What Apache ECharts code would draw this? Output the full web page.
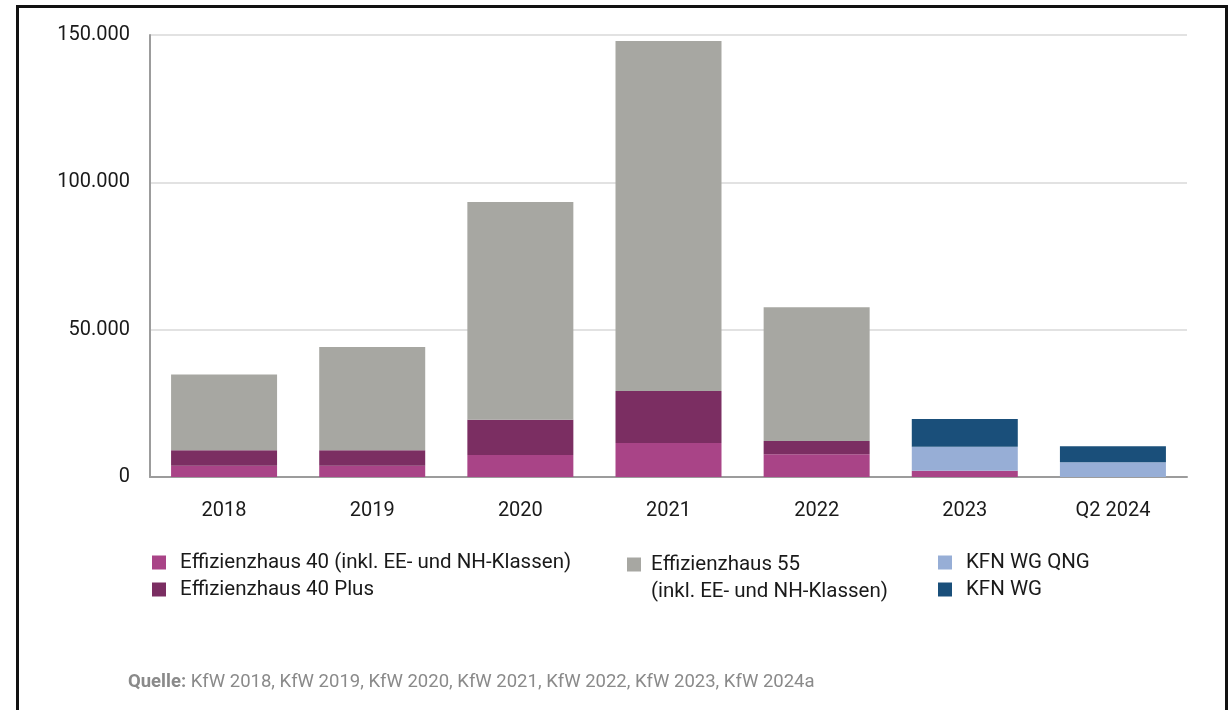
<!DOCTYPE html>
<html>
<head>
<meta charset="utf-8">
<script src="https://cdn.jsdelivr.net/npm/echarts@6/dist/echarts.min.js"></script>
<style>
  html, body { margin: 0; padding: 0; background: #fff; }
  #frame { position: absolute; left: 16px; top: 5px; width: 1206px; height: 740px;
           border: 3px solid #111; border-bottom: none; }
  #chart { position: absolute; left: 0; top: 0; width: 1229px; height: 710px; }
</style>
</head>
<body>
<div id="frame"></div>
<div id="chart"></div>
<script>
// Kategorien (Jahre)
var years = ['2018', '2019', '2020', '2021', '2022', '2023', 'Q2 2024'];

// Werte je Förderstandard (geschätzt aus der Grafik)
var eh40     = [3800, 3800, 7500, 11500, 7700, 2100, 0];
var eh40Plus = [5300, 5300, 11900, 17700, 4500, 0, 0];
var eh55     = [25700, 35000, 73900, 118800, 45400, 0, 0];
var kfnQng   = [0, 0, 0, 0, 0, 8200, 5000];
var kfnWg    = [0, 0, 0, 0, 0, 9400, 5400];

var yTicks = [0, 50000, 100000, 150000];

var names = {
    eh40: 'Effizienzhaus 40 (inkl. EE- und NH-Klassen)',
    eh40Plus: 'Effizienzhaus 40 Plus',
    eh55: 'Effizienzhaus 55 (inkl. EE- und NH-Klassen)',
    qng: 'KFN WG QNG',
    wg: 'KFN WG'
};

var chart = echarts.init(document.getElementById('chart'));

function fmt(v) {
    return String(v).replace(/\B(?=(\d{3})+(?!\d))/g, '.');
}

function bar(name, data, color) {
    return {
        name: name,
        type: 'bar',
        stack: 'total',
        barWidth: 106,
        data: data,
        itemStyle: { color: color },
        emphasis: { disabled: true }
    };
}

var legendText = { fontFamily: 'Roboto', fontSize: 20.5, color: '#1a1a1a', lineHeight: 27, padding: [0, 0, 0, 9] };

var option = {
    animation: false,
    textStyle: { fontFamily: 'Roboto' },
    grid: { left: 150, right: 42, top: 35, bottom: 233 },
    xAxis: {
        type: 'category',
        data: years,
        axisLine: { lineStyle: { color: '#9c9c9c', width: 2 } },
        axisTick: { show: false },
        axisLabel: { fontSize: 20, color: '#1a1a1a', margin: 24 }
    },
    yAxis: {
        type: 'value',
        min: yTicks[0],
        max: yTicks[yTicks.length - 1],
        interval: 50000,
        axisLine: { show: true, lineStyle: { color: '#9c9c9c', width: 2 } },
        axisTick: { show: false },
        splitLine: { lineStyle: { color: '#e2e2e2', width: 2 } },
        axisLabel: { fontSize: 20, color: '#1a1a1a', margin: 20, formatter: fmt }
    },
    legend: [
        {
            left: 147, top: 544, orient: 'vertical', itemGap: 0,
            itemWidth: 14, itemHeight: 14, icon: 'rect',
            data: [names.eh40, names.eh40Plus], textStyle: legendText
        },
        {
            // leere erste Zeile, damit das Symbol auf Höhe der ersten Textzeile sitzt
            left: 622, top: 519, orient: 'vertical',
            itemWidth: 14, itemHeight: 14, icon: 'rect',
            data: [names.eh55],
            formatter: function () { return ' \nEffizienzhaus 55\n(inkl. EE- und NH-Klassen)'; },
            textStyle: Object.assign({}, legendText, { padding: [0, 0, 0, 5] })
        },
        {
            left: 933, top: 544, orient: 'vertical', itemGap: 0,
            itemWidth: 14, itemHeight: 14, icon: 'rect',
            data: [names.qng, names.wg], textStyle: legendText
        }
    ],
    title: {
        left: 123, top: 668,
        text: '{b|Quelle:} KfW 2018, KfW 2019, KfW 2020, KfW 2021, KfW 2022, KfW 2023, KfW 2024a',
        textStyle: {
            fontFamily: 'Roboto', fontSize: 18.5, fontWeight: 'normal', color: '#8a8a8a',
            rich: { b: { fontFamily: 'Roboto', fontSize: 18.5, fontWeight: 'bold', color: '#8a8a8a' } }
        }
    },
    series: [
        bar(names.eh40, eh40, '#a94487'),
        bar(names.eh40Plus, eh40Plus, '#7b2e62'),
        bar(names.eh55, eh55, '#a7a7a2'),
        bar(names.qng, kfnQng, '#97aed6'),
        bar(names.wg, kfnWg, '#1a4f7a')
    ]
};

chart.setOption(option);
</script>
</body>
</html>
